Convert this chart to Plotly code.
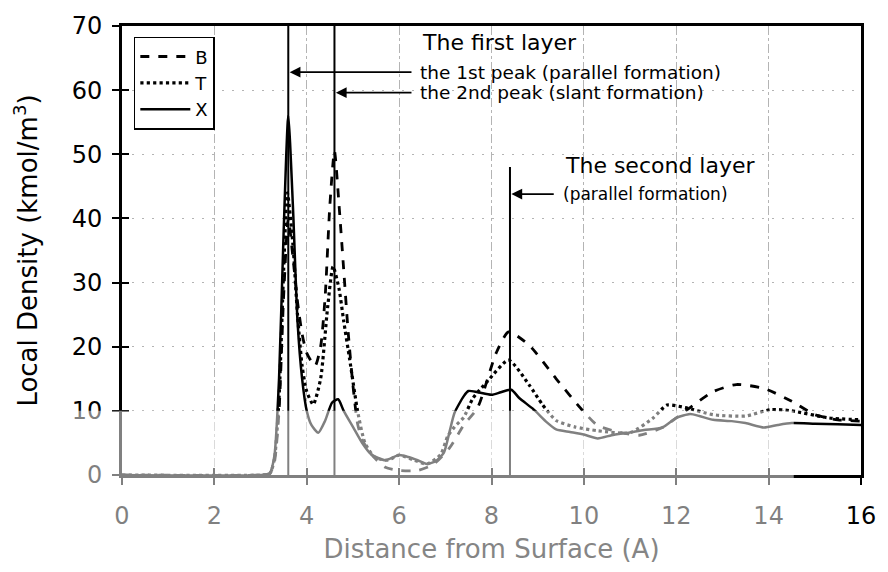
import plotly.graph_objects as go

# Local density profiles (kmol/m^3) against distance from the surface (A)
b_dist = [0, 3.0, 3.2, 3.3, 3.4, 3.5, 3.6, 3.7, 3.8, 3.9, 4.0, 4.18, 4.3, 4.4, 4.5, 4.6, 4.7, 4.8,
          4.9, 5.0, 5.1, 5.2, 5.4, 5.7, 6.0, 6.4, 6.75, 7.1, 7.4, 7.7, 8.1, 8.37, 8.82, 9.4, 9.98,
          10.3, 10.7, 11.2, 11.7, 12.3, 12.8, 13.3, 13.9, 14.5, 15.0, 15.5, 16.0]
b_dens = [0, 0, 0.2, 2, 10, 28, 40, 34, 27, 22, 19, 17, 20, 28, 42, 50.5, 42, 32,
          22, 14, 8, 5.5, 3.2, 1.2, 0.7, 0.7, 1.7, 4.3, 7.8, 10.5, 19, 22.3, 20.2, 15, 10,
          7.7, 6.8, 6.2, 7.4, 10.5, 13, 14.1, 13.5, 11.5, 9.4, 8.6, 8.4]

t_dist = [0, 3.0, 3.2, 3.3, 3.4, 3.5, 3.58, 3.7, 3.8, 3.9, 4.0, 4.14, 4.3, 4.45, 4.57, 4.7, 4.8,
          4.93, 5.1, 5.26, 5.47, 5.75, 6.0, 6.33, 6.6, 6.9, 7.05, 7.2, 7.4, 7.6, 7.9, 8.37, 8.82,
          9.1, 9.4, 9.8, 10.3, 11.0, 11.5, 11.8, 12.2, 12.8, 13.5, 14.05, 14.5, 15.3, 16.0]
t_dens = [0, 0, 0.2, 2.5, 12, 32, 44, 36, 25, 17, 13, 11, 15, 26, 32.5, 29, 24,
          18, 10, 5, 2.8, 2.3, 3.1, 2.3, 1.7, 3.2, 6, 7.5, 9, 12, 14.5, 17.9, 14,
          11, 8.5, 7.5, 6.9, 6.6, 8.9, 10.9, 10.5, 9.4, 9.2, 10.2, 10, 8.9, 8.6]

x_dist = [0, 3.0, 3.2, 3.3, 3.4, 3.5, 3.6, 3.7, 3.8, 3.9, 4.0, 4.1, 4.25, 4.4, 4.55, 4.68, 4.8,
          5.0, 5.2, 5.4, 5.7, 6.0, 6.2, 6.4, 6.6, 6.8, 6.97, 7.1, 7.2, 7.4, 7.5, 7.7, 8.0, 8.2,
          8.43, 8.6, 8.9, 9.2, 9.4, 9.7, 10.0, 10.3, 10.6, 10.97, 11.3, 11.7, 12.0, 12.3, 12.5,
          12.8, 13.2, 13.5, 13.9, 14.2, 14.5, 15.0, 15.5, 16.0]
x_dens = [0, 0, 0.3, 3, 15, 38, 56, 42, 24, 15, 10, 7.8, 6.6, 8.5, 11.3, 11.8, 10,
          7.5, 5, 3.2, 2.3, 3.1, 2.8, 2.3, 1.7, 2.2, 3.5, 7, 9.7, 12.3, 13.1, 12.9, 12.5, 12.9,
          13.3, 12, 10.3, 8.2, 7.1, 6.7, 6.3, 5.7, 6.2, 6.6, 7, 7.4, 8.9, 9.5, 9.2,
          8.6, 8.4, 8.1, 7.4, 7.8, 8.1, 8, 7.9, 7.8]

# Peak marker lines: position and top of each vertical line
peak_pos = [3.6, 4.6, 8.4]
peak_top = [70, 70, 48]

x_ticks = [0, 2, 4, 6, 8, 10, 12, 14, 16]
y_ticks = [0, 10, 20, 30, 40, 50, 60, 70]

FONT = "DejaVu Sans, Liberation Sans, sans-serif"
GRID = "#b4b4b4"

fig = go.Figure()

for pos, top in zip(peak_pos, peak_top):
    fig.add_trace(go.Scatter(x=[pos, pos], y=[0, top], mode="lines",
                             line=dict(color="black", width=2), showlegend=False,
                             hoverinfo="skip"))

fig.add_trace(go.Scatter(x=b_dist, y=b_dens, name="B", mode="lines",
                         line=dict(color="black", width=2.8, dash="dash", shape="spline",
                                   smoothing=0.6)))
fig.add_trace(go.Scatter(x=t_dist, y=t_dens, name="T", mode="lines",
                         line=dict(color="black", width=3.2, dash="dot", shape="spline",
                                   smoothing=0.6)))
fig.add_trace(go.Scatter(x=x_dist, y=x_dens, name="X", mode="lines",
                         line=dict(color="black", width=2.5, shape="spline", smoothing=0.6)))

# Overlay axes carry the inward half of the crossing tick marks
fig.add_trace(go.Scatter(x=[0], y=[0], xaxis="x2", yaxis="y", mode="markers",
                         marker=dict(opacity=0), showlegend=False, hoverinfo="skip"))
fig.add_trace(go.Scatter(x=[0], y=[0], xaxis="x", yaxis="y2", mode="markers",
                         marker=dict(opacity=0), showlegend=False, hoverinfo="skip"))

fig.update_layout(
    width=888, height=572,
    margin=dict(l=122, r=20, t=23, b=94),
    paper_bgcolor="white", plot_bgcolor="white",
    font=dict(family=FONT, color="black"),
    xaxis=dict(range=[0, 16], tickvals=x_ticks, ticks="outside", ticklen=7, tickwidth=2,
               tickcolor="black", tickfont=dict(size=24), ticklabelstandoff=10,
               showline=True, linecolor="black", linewidth=3, mirror=True,
               showgrid=True, gridcolor=GRID, gridwidth=1, griddash="dashdot",
               zeroline=False,
               title=dict(text="Distance from Surface (A)", font=dict(size=26, color="#858585"),
                          standoff=12)),
    yaxis=dict(range=[0, 70], tickvals=y_ticks, ticks="outside", ticklen=7, tickwidth=2,
               tickcolor="black", tickfont=dict(size=24), ticklabelstandoff=5,
               showline=True, linecolor="black", linewidth=3, mirror=True,
               showgrid=True, gridcolor=GRID, gridwidth=1, griddash="2px,8px",
               zeroline=False,
               title=dict(text="Local Density (kmol/m<sup>3</sup>)", font=dict(size=26),
                          standoff=27)),
    xaxis2=dict(range=[0, 16], overlaying="x", anchor="y", side="bottom", tickvals=x_ticks,
                ticks="inside", ticklen=7, tickwidth=2, tickcolor="black",
                showticklabels=False, showgrid=False, zeroline=False, showline=False),
    yaxis2=dict(range=[0, 70], overlaying="y", anchor="x", side="left", tickvals=y_ticks,
                ticks="inside", ticklen=7, tickwidth=2, tickcolor="black",
                showticklabels=False, showgrid=False, zeroline=False, showline=False),
    legend=dict(x=0.016, y=0.976, xanchor="left", yanchor="top", bgcolor="white",
                bordercolor="black", borderwidth=1.5, font=dict(size=18),
                tracegroupgap=0, itemwidth=50),
)

# Layer labels
fig.add_annotation(x=6.45, y=67.4, text="The first layer", showarrow=False,
                   xanchor="left", font=dict(size=22))
fig.add_annotation(x=6.4, y=62.8, text="the 1st peak (parallel formation)", showarrow=False,
                   xanchor="left", font=dict(size=18.5))
fig.add_annotation(x=6.4, y=59.6, text="the 2nd peak (slant formation)", showarrow=False,
                   xanchor="left", font=dict(size=18.5))
fig.add_annotation(x=9.55, y=48.2, text="The second layer", showarrow=False,
                   xanchor="left", font=dict(size=22))
fig.add_annotation(x=9.5, y=43.8, text="(parallel formation)", showarrow=False,
                   xanchor="left", font=dict(size=17))

# Arrows pointing at the peak lines
for head_x, tail_x, yy in [(3.63, 6.3, 62.8), (4.63, 6.3, 59.6), (8.43, 9.38, 43.8)]:
    fig.add_annotation(x=head_x, y=yy, ax=tail_x, ay=yy, axref="x", ayref="y",
                       xref="x", yref="y", text="", showarrow=True, arrowhead=2,
                       arrowsize=1.2, arrowwidth=1.8, arrowcolor="black")

# Faded lower band of the page
fig.add_shape(type="rect", xref="paper", yref="paper", x0=-0.2, x1=0.909, y0=-0.22,
              y1=0.143, fillcolor="white", opacity=0.5, line=dict(width=0), layer="above")

fig.write_html("out.html")
